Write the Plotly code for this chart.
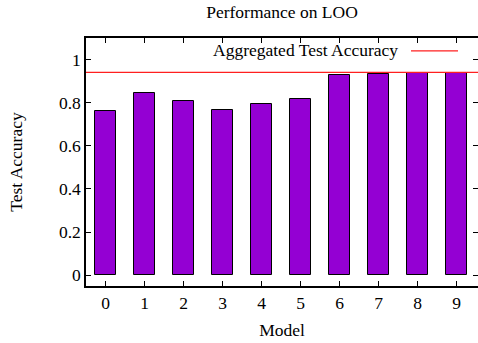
import plotly.graph_objects as go

models = [0, 1, 2, 3, 4, 5, 6, 7, 8, 9]
accuracy = [0.760, 0.844, 0.807, 0.766, 0.794, 0.819, 0.929, 0.932, 0.936, 0.939]
aggregated = 0.941
y_ticks = [0, 0.2, 0.4, 0.6, 0.8, 1]
y_tick_labels = ["0", "0.2", "0.4", "0.6", "0.8", "1"]

FONT = "Liberation Serif"
FS = 17.5

fig = go.Figure()
fig.add_trace(go.Bar(
    x=models, y=accuracy, width=0.52,
    marker=dict(color="#9400D3", line=dict(color="black", width=1)),
    showlegend=False,
))
fig.add_hline(y=aggregated, line=dict(color="#ff2020", width=1.2))

# legend entry (gnuplot style: text then sample line)
fig.add_annotation(xref="paper", yref="paper", x=0.801, y=0.952, xanchor="right", yanchor="middle",
                   text="Aggregated Test Accuracy", showarrow=False,
                   font=dict(family=FONT, size=FS, color="black"))
fig.add_shape(type="line", xref="paper", yref="paper", x0=0.829, x1=0.949, y0=0.948, y1=0.948,
              line=dict(color="#ff2020", width=1.2))

fig.update_layout(
    width=478, height=343,
    margin=dict(l=86, r=0, t=38, b=57, autoexpand=False),
    paper_bgcolor="white", plot_bgcolor="white",
    font=dict(family=FONT, size=FS, color="black"),
    title=dict(text="Performance on LOO", x=0.5, xanchor="center", xref="paper", y=0.965, yanchor="middle",
               font=dict(family=FONT, size=FS), automargin=False),
    bargap=0,
)
fig.update_xaxes(
    range=[-0.5, 9.55], tickmode="array", tickvals=models, ticktext=[str(m) for m in models],
    ticks="inside", ticklen=5, tickcolor="black", showline=True, linecolor="black", linewidth=1.5,
    mirror="ticks", showgrid=False, zeroline=False, automargin=False,
    title=dict(text="Model", font=dict(family=FONT, size=FS), standoff=12),
)
fig.update_yaxes(
    range=[-0.05, 1.1], tickmode="array", tickvals=y_ticks, ticktext=y_tick_labels,
    ticks="inside", ticklen=5, tickcolor="black", showline=True, linecolor="black", linewidth=1.5,
    mirror="ticks", showgrid=False, zeroline=False, automargin=False,
    title=dict(text="Test Accuracy", font=dict(family=FONT, size=FS), standoff=32),
)

fig.write_html("out.html", config={"displayModeBar": False},
               post_script="document.body.style.margin='0';document.body.style.overflow='hidden';")
